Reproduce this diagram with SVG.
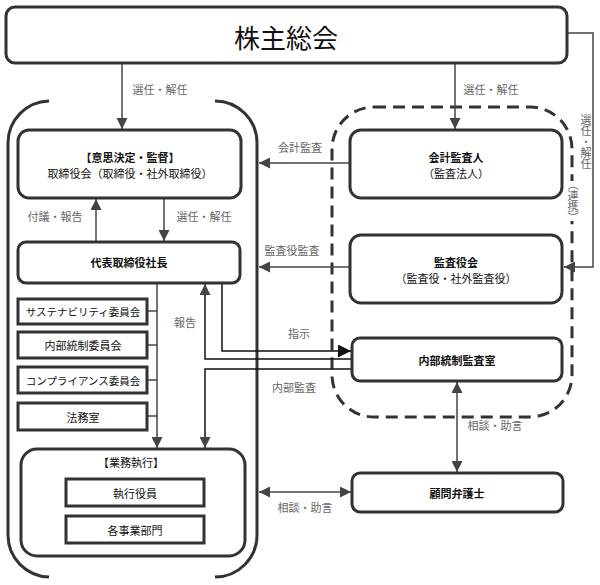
<svg xmlns="http://www.w3.org/2000/svg" width="600" height="585" viewBox="0 0 600 585">
<defs>
<style>
text{font-family:"Noto Sans CJK JP","Noto Sans CJK SC",sans-serif;dominant-baseline:central;text-anchor:middle;}
.box{fill:#fff;stroke:#333;stroke-width:3;}
.sq{fill:#fff;stroke:#333;stroke-width:3;}
.t{font-size:11px;fill:#111;}
.b{font-weight:bold;}
.lbl{font-size:11px;fill:#666;}
.ln{fill:none;stroke:#444;stroke-width:1.5;}
.lk{fill:none;stroke:#111;stroke-width:1.5;}
.br{fill:none;stroke:#333;stroke-width:3;}
</style>
<marker id="ah" viewBox="0 0 10 10" refX="10" refY="5" markerWidth="11" markerHeight="11" markerUnits="userSpaceOnUse" orient="auto-start-reverse"><path d="M0,0L10,5L0,10z" fill="#444"/></marker>
<marker id="ak" viewBox="0 0 10 10" refX="10" refY="5" markerWidth="13" markerHeight="13" markerUnits="userSpaceOnUse" orient="auto"><path d="M0,0L10,5L0,10z" fill="#111"/></marker>
</defs>
<rect width="600" height="585" fill="#fff"/>

<g id="frames">
<path class="br" d="M49 101A42 42 0 0 0 8 143L8 535A42 42 0 0 0 49 577"/>
<path class="br" d="M215 101A42 42 0 0 1 257 143L257 535A42 42 0 0 1 215 577"/>
<rect x="332" y="107" width="240" height="310" rx="42" fill="none" stroke="#333" stroke-width="3" stroke-dasharray="12 7"/>
</g>

<g id="connectors">
<path class="ln" d="M122 63L122 129" marker-end="url(#ah)"/>
<path class="ln" d="M455 63L455 129" marker-end="url(#ah)"/>
<path class="ln" d="M567 33L593 33L593 267L564 267" marker-end="url(#ah)"/>
<path class="ln" d="M96 242L96 199" marker-end="url(#ah)"/>
<path class="ln" d="M164 199L164 241" marker-end="url(#ah)"/>
<path class="ln" d="M350 163L259 163" marker-end="url(#ah)"/>
<path class="ln" d="M350 267L259 267" marker-end="url(#ah)"/>
<path class="ln" d="M157 284L157 448" marker-end="url(#ah)"/>
<path class="ln" d="M147 311H157M147 345H157M147 380H157M147 416H157"/>
<path class="lk" d="M222 284L222 351L351 351" marker-end="url(#ak)"/>
<path class="lk" d="M352 359L205 359L205 284" marker-end="url(#ah)"/>
<path class="lk" d="M352 369L205 369L205 448" marker-end="url(#ah)"/>
<path class="ln" d="M457 382L457 472" marker-start="url(#ah)" marker-end="url(#ah)"/>
<path class="ln" d="M259 492L351 492" marker-start="url(#ah)" marker-end="url(#ah)"/>
<text class="lbl" x="160" y="89">選任・解任</text>
<text class="lbl" x="491" y="89">選任・解任</text>
<text class="lbl" x="55" y="216">付議・報告</text>
<text class="lbl" x="204" y="216">選任・解任</text>
<text class="lbl" x="300" y="147">会計監査</text>
<text class="lbl" x="292" y="250">監査役監査</text>
<text class="lbl" x="185" y="322">報告</text>
<text class="lbl" x="299" y="333">指示</text>
<text class="lbl" x="294" y="387">内部監査</text>
<text class="lbl" x="495" y="425">相談・助言</text>
<text class="lbl" x="305" y="507">相談・助言</text>
<text class="lbl" x="586" y="142" style="writing-mode:vertical-rl">選任・解任</text>
<rect x="566" y="181" width="14" height="40" fill="#fff"/>
<text class="lbl" x="573" y="201" style="writing-mode:vertical-rl">（連携）</text>
</g>

<g id="n-agm">
<rect class="box" x="6" y="7" width="561" height="56" rx="9"/>
<text x="286" y="36" style="font-size:26px;fill:#111">株主総会</text>
</g>
<g id="n-board">
<rect class="box" x="18" y="130" width="223" height="68" rx="11"/>
<text class="t b" x="130" y="157">【意思決定・監督】</text>
<text class="t" x="130" y="173">取締役会（取締役・社外取締役）</text>
</g>
<g id="n-president">
<rect class="box" x="18" y="242" width="222" height="41" rx="8"/>
<text class="t b" x="129" y="262">代表取締役社長</text>
</g>
<g id="n-sustain">
<rect class="sq" x="18" y="299" width="129" height="25"/>
<text class="t" x="83" y="311.5" style="font-size:10.5px">サステナビリティ委員会</text>
</g>
<g id="n-icc">
<rect class="sq" x="18" y="332" width="129" height="26"/>
<text class="t" x="83" y="345">内部統制委員会</text>
</g>
<g id="n-compliance">
<rect class="sq" x="18" y="367" width="129" height="26"/>
<text class="t" x="83" y="380" style="font-size:10.5px">コンプライアンス委員会</text>
</g>
<g id="n-legal">
<rect class="sq" x="18" y="403" width="129" height="27"/>
<text class="t" x="83" y="416.5">法務室</text>
</g>
<g id="n-exec">
<rect class="box" x="21" y="449" width="224" height="107" rx="16"/>
<text class="t" x="131" y="462">【業務執行】</text>
<rect class="sq" x="66" y="479" width="138" height="27"/>
<text class="t" x="135" y="492.5">執行役員</text>
<rect class="sq" x="66" y="516" width="138" height="27"/>
<text class="t" x="135" y="529.5">各事業部門</text>
</g>
<g id="n-auditor">
<rect class="box" x="350" y="130" width="212" height="68" rx="11"/>
<text class="t b" x="456" y="157">会計監査人</text>
<text class="t" x="456" y="173">（監査法人）</text>
</g>
<g id="n-kansayaku">
<rect class="box" x="350" y="235" width="212" height="68" rx="11"/>
<text class="t b" x="456" y="262">監査役会</text>
<text class="t" x="456" y="278">（監査役・社外監査役）</text>
</g>
<g id="n-internal-audit">
<rect class="box" x="352" y="338" width="210" height="43" rx="8"/>
<text class="t b" x="457" y="359.5">内部統制監査室</text>
</g>
<g id="n-lawyer">
<rect class="box" x="352" y="473" width="211" height="39" rx="8"/>
<text class="t b" x="457" y="492.5">顧問弁護士</text>
</g>
</svg>
